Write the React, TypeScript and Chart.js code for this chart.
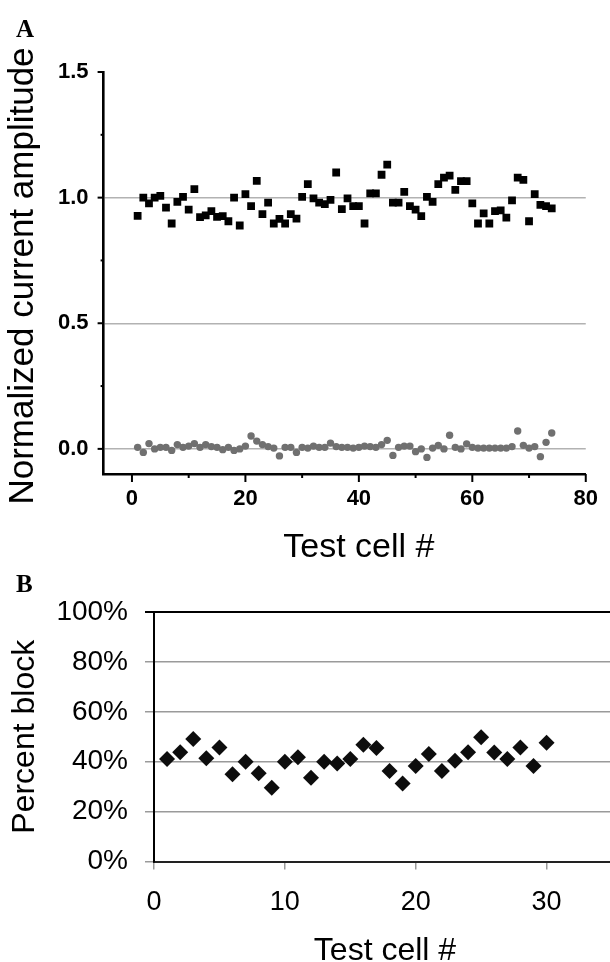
import React, { useEffect, useRef } from "react";
import { Chart, registerables } from "chart.js";

Chart.register(...registerables);

// ---------- Panel A data ----------
const cellsA = [
  1, 2, 3, 4, 5, 6, 7, 8, 9, 10, 11, 12, 13, 14, 15, 16, 17, 18, 19, 20,
  21, 22, 23, 24, 25, 26, 27, 28, 29, 30, 31, 32, 33, 34, 35, 36, 37, 38, 39, 40,
  41, 42, 43, 44, 45, 46, 47, 48, 49, 50, 51, 52, 53, 54, 55, 56, 57, 58, 59, 60,
  61, 62, 63, 64, 65, 66, 67, 68, 69, 70, 71, 72, 73, 74,
];
const controlA = [
  0.927, 1.0, 0.977, 1.0, 1.007, 0.96, 0.897, 0.983, 1.003, 0.952,
  1.034, 0.922, 0.929, 0.946, 0.923, 0.926, 0.906, 1.0, 0.889, 1.014,
  0.966, 1.067, 0.934, 0.98, 0.897, 0.915, 0.897, 0.934, 0.916, 1.003,
  1.054, 0.997, 0.98, 0.974, 0.991, 1.1, 0.954, 0.997, 0.966, 0.966,
  0.897, 1.017, 1.017, 1.091, 1.131, 0.98, 0.98, 1.023, 0.966, 0.952,
  0.926, 1.003, 0.983, 1.054, 1.08, 1.088, 1.031, 1.066, 1.066, 0.977,
  0.897, 0.937, 0.897, 0.946, 0.949, 0.92, 0.989, 1.08, 1.071, 0.906,
  1.014, 0.971, 0.966, 0.957,
];
const blockedA = [
  0.006, -0.014, 0.021, 0.0, 0.006, 0.006, -0.006, 0.017, 0.006, 0.011,
  0.021, 0.006, 0.017, 0.009, 0.006, -0.003, 0.006, -0.006, 0.0, 0.011,
  0.051, 0.031, 0.017, 0.009, 0.003, -0.028, 0.006, 0.006, -0.014, 0.006,
  0.003, 0.011, 0.006, 0.006, 0.023, 0.009, 0.006, 0.006, 0.003, 0.006,
  0.011, 0.009, 0.006, 0.017, 0.034, -0.026, 0.006, 0.011, 0.011, -0.011,
  0.0, -0.034, 0.003, 0.014, 0.0, 0.054, 0.006, 0.0, 0.02, 0.006,
  0.003, 0.003, 0.003, 0.003, 0.003, 0.003, 0.009, 0.071, 0.014, 0.003,
  0.009, -0.031, 0.026, 0.063,
];
const yTicksA = [0, 0.25, 0.5, 0.75, 1, 1.25, 1.5];
const yLabelsA = [0, 0.5, 1, 1.5];
const yGridA = [0, 0.5, 1];
const xTicksA = [0, 10, 20, 30, 40, 50, 60, 70, 80];
const xLabelsA = [0, 20, 40, 60, 80];

// ---------- Panel B data ----------
const cellsB = [
  1, 2, 3, 4, 5, 6, 7, 8, 9, 10, 11, 12, 13, 14, 15,
  16, 17, 18, 19, 20, 21, 22, 23, 24, 25, 26, 27, 28, 29, 30,
];
const blockB = [
  41.1, 43.8, 49.1, 41.4, 45.7, 35.0, 40.0, 35.4, 29.6, 40.0,
  41.8, 33.6, 40.0, 39.3, 41.1, 46.8, 45.5, 36.3, 31.3, 38.3,
  43.1, 36.3, 40.4, 43.8, 49.8, 43.7, 41.1, 45.7, 38.3, 47.6,
];
const yTicksB = [0, 20, 40, 60, 80, 100];
const xTicksB = [0, 10, 20, 30];

const SANS = "'Liberation Sans', Arial, sans-serif";
const SERIF = "'Liberation Serif', 'Times New Roman', serif";

const W_A = 610;
const H_A = 565;
const W_B = 620;
const H_B = 397;

const decorA = {
  id: "decorA",
  afterDraw(chart: any) {
    const { ctx, chartArea, scales } = chart;
    const x = scales.x;
    const y = scales.y;
    ctx.save();
    ctx.strokeStyle = "#000";
    ctx.lineWidth = 2;
    yTicksA.forEach((v) => {
      const py = y.getPixelForValue(v);
      const len = yLabelsA.includes(v) ? 6 : 3;
      ctx.beginPath();
      ctx.moveTo(chartArea.left - len, py);
      ctx.lineTo(chartArea.left, py);
      ctx.stroke();
    });
    xTicksA.forEach((v) => {
      const px = x.getPixelForValue(v);
      const len = xLabelsA.includes(v) ? 8 : 4;
      ctx.beginPath();
      ctx.moveTo(px, chartArea.bottom);
      ctx.lineTo(px, chartArea.bottom + len);
      ctx.stroke();
    });
    ctx.fillStyle = "#000";
    ctx.font = `bold 25px ${SERIF}`;
    ctx.textAlign = "left";
    ctx.textBaseline = "alphabetic";
    ctx.fillText("A", 16, 37);
    ctx.font = `34px ${SANS}`;
    ctx.textAlign = "center";
    ctx.fillText("Test cell #", x.getPixelForValue(40), 557);
    ctx.font = `35px ${SANS}`;
    ctx.translate(33, 276);
    ctx.rotate(-Math.PI / 2);
    ctx.fillText("Normalized current amplitude", 0, 0);
    ctx.restore();
  },
};

const decorB = {
  id: "decorB",
  afterDraw(chart: any) {
    const { ctx, chartArea } = chart;
    ctx.save();
    ctx.fillStyle = "#000";
    ctx.font = `bold 25px ${SERIF}`;
    ctx.textAlign = "left";
    ctx.textBaseline = "alphabetic";
    ctx.fillText("B", 16, 27);
    ctx.font = `32px ${SANS}`;
    ctx.textAlign = "center";
    ctx.fillText("Test cell #", (chartArea.left + chartArea.right) / 2 + 2, 395);
    ctx.translate(34, (chartArea.top + chartArea.bottom) / 2);
    ctx.rotate(-Math.PI / 2);
    ctx.fillText("Percent block", 0, 0);
    ctx.restore();
  },
};

function makeConfigA(): any {
  return {
    type: "scatter",
    data: {
      datasets: [
        {
          label: "control",
          data: cellsA.map((c, i) => ({ x: c, y: controlA[i] })),
          pointStyle: "rect",
          pointRadius: 5.5,
          backgroundColor: "#000",
          borderColor: "#000",
          borderWidth: 0,
        },
        {
          label: "blocked",
          data: cellsA.map((c, i) => ({ x: c, y: blockedA[i] })),
          pointStyle: "circle",
          pointRadius: 3.7,
          backgroundColor: "#707070",
          borderColor: "#707070",
          borderWidth: 0,
        },
      ],
    },
    options: {
      animation: false,
      responsive: false,
      maintainAspectRatio: false,
      events: [],
      layout: { padding: { top: 72, right: 17.7, left: 0, bottom: 0 } },
      plugins: { legend: { display: false }, tooltip: { enabled: false } },
      scales: {
        x: {
          type: "linear",
          min: -5,
          max: 80,
          afterBuildTicks: (s: any) => {
            s.ticks = xTicksA.map((v) => ({ value: v }));
          },
          afterFit: (s: any) => {
            s.height = H_A - 474;
          },
          grid: { display: true, drawOnChartArea: false, drawTicks: false },
          border: { display: true, color: "#000", width: 2.6 },
          ticks: {
            autoSkip: false,
            maxRotation: 0,
            padding: 12,
            color: "#000",
            font: { family: SANS, size: 22, weight: "bold" },
            callback: (v: number) => (xLabelsA.includes(v) ? String(v) : ""),
          },
        },
        y: {
          type: "linear",
          min: -0.1,
          max: 1.5,
          afterBuildTicks: (s: any) => {
            s.ticks = yTicksA.map((v) => ({ value: v }));
          },
          afterFit: (s: any) => {
            s.width = 103.6;
          },
          grid: {
            drawTicks: false,
            lineWidth: 1.5,
            color: (c: any) =>
              c.tick && yGridA.includes(c.tick.value) ? "#b2b2b2" : "rgba(0,0,0,0)",
          },
          border: { display: true, color: "#000", width: 2.6 },
          ticks: {
            autoSkip: false,
            padding: 15,
            color: "#000",
            font: { family: SANS, size: 22, weight: "bold" },
            callback: (v: number) => (yLabelsA.includes(v) ? v.toFixed(1) : ""),
          },
        },
      },
    },
    plugins: [decorA],
  };
}

function makeConfigB(): any {
  return {
    type: "scatter",
    data: {
      datasets: [
        {
          label: "block",
          data: cellsB.map((c, i) => ({ x: c, y: blockB[i] })),
          pointStyle: "rectRot",
          pointRadius: 8,
          backgroundColor: "#0d0d0d",
          borderColor: "#0d0d0d",
          borderWidth: 0,
        },
      ],
    },
    options: {
      animation: false,
      responsive: false,
      maintainAspectRatio: false,
      events: [],
      layout: { padding: { top: 47, right: 6.4, left: 0, bottom: 0 } },
      plugins: { legend: { display: false }, tooltip: { enabled: false } },
      scales: {
        x: {
          type: "linear",
          min: 0,
          max: 35,
          afterBuildTicks: (s: any) => {
            s.ticks = xTicksB.map((v) => ({ value: v }));
          },
          afterFit: (s: any) => {
            s.height = H_B - 296.5;
          },
          grid: {
            display: true,
            drawOnChartArea: false,
            drawTicks: true,
            tickLength: 8,
            color: "#9a9a9a",
            lineWidth: 1.5,
          },
          border: { display: true, color: "#222", width: 2 },
          ticks: {
            autoSkip: false,
            maxRotation: 0,
            padding: 17,
            color: "#000",
            font: { family: SANS, size: 27 },
            callback: (v: number) => String(v),
          },
        },
        y: {
          type: "linear",
          min: 0,
          max: 100,
          afterBuildTicks: (s: any) => {
            s.ticks = yTicksB.map((v) => ({ value: v }));
          },
          afterFit: (s: any) => {
            s.width = 154;
          },
          grid: {
            drawTicks: true,
            tickLength: 9,
            lineWidth: (c: any) => (c.tick && c.tick.value === 100 ? 2 : 1.5),
            color: (c: any) => (c.tick && c.tick.value === 100 ? "#000" : "#9a9a9a"),
          },
          border: { display: true, color: "#000", width: 2 },
          ticks: {
            autoSkip: false,
            padding: 17,
            color: "#000",
            font: { family: SANS, size: 28 },
            callback: (v: number) => `${v}%`,
          },
        },
      },
    },
    plugins: [decorB],
  };
}

export default function App() {
  const refA = useRef<HTMLCanvasElement>(null);
  const refB = useRef<HTMLCanvasElement>(null);

  useEffect(() => {
    document.body.style.margin = "0";
    document.documentElement.style.overflow = "hidden";
    const a = new Chart(refA.current as HTMLCanvasElement, makeConfigA());
    const b = new Chart(refB.current as HTMLCanvasElement, makeConfigB());
    return () => {
      a.destroy();
      b.destroy();
    };
  }, []);

  return (
    <div
      style={{
        position: "relative",
        width: 610,
        height: 962,
        overflow: "hidden",
        background: "#fff",
      }}
    >
      <canvas
        ref={refA}
        width={W_A}
        height={H_A}
        style={{ position: "absolute", left: 0, top: 0, width: W_A, height: H_A }}
      />
      <canvas
        ref={refB}
        width={W_B}
        height={H_B}
        style={{ position: "absolute", left: 0, top: H_A, width: W_B, height: H_B }}
      />
    </div>
  );
}
